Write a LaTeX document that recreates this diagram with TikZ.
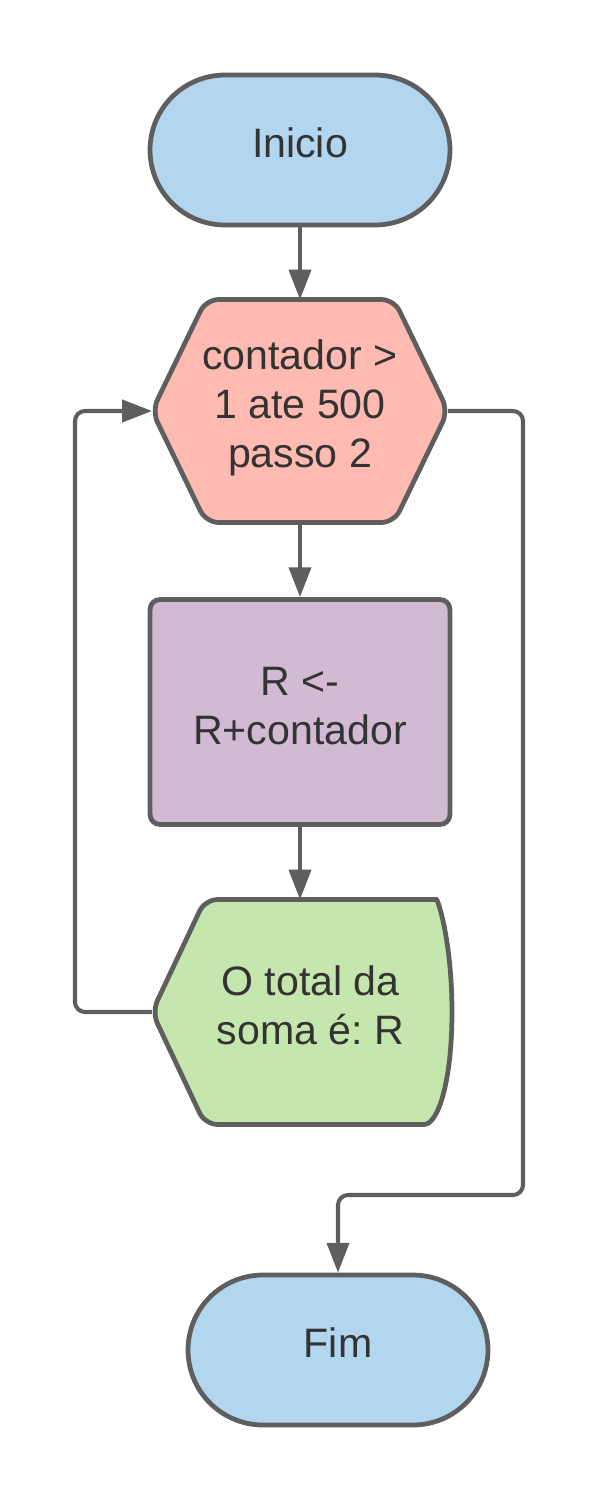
\documentclass[tikz,border=0pt]{standalone}
\usepackage{fontspec}
\setmainfont{Liberation Sans}
\usetikzlibrary{calc,shapes.misc,arrows.meta,backgrounds}
\usepackage{xcolor}
\definecolor{edge}{HTML}{5E5E5E}
\definecolor{ink}{HTML}{333333}
\definecolor{termfill}{HTML}{B2D6EF}
\definecolor{loopfill}{HTML}{FFBAB1}
\definecolor{procfill}{HTML}{D2BBD2}
\definecolor{outfill}{HTML}{C5E7AD}
\frenchspacing

\begin{document}
\begin{tikzpicture}[x=0.02cm,y=-0.02cm,
		font=\fontsize{23.4}{27.9}\selectfont, text=ink]
		\tikzstyle{every node}=[align=center, inner sep=0pt, text height=16.75pt, text depth=8pt]
		\tikzstyle{two lines}=[text height=44.65pt]
		\tikzstyle{three lines}=[text height=72.55pt]
		\tikzstyle{border}=[draw=edge, line width=2.7pt]
		\tikzstyle{terminal}=[border, fill=termfill, rounded rectangle, minimum width=6cm, minimum height=3cm]
		\tikzstyle{process}=[border, fill=procfill, rounded corners=0.2cm, minimum width=6cm, minimum height=4.5cm]
		\tikzstyle{frame}=[minimum width=5.92cm, minimum height=4.46cm, outer sep=0pt]
		\tikzstyle{line}=[draw=edge, line width=2.3pt, rounded corners=0.2cm, -{Triangle[length=17pt,width=12.5pt]}]
		\useasboundingbox (0,0) rectangle (600,1500);
		\node[terminal] (inicio) at (300,150) {Inicio};
		\node[frame, three lines] (laco) at (300,411) {contador >\\1 ate 500\\passo 2};
		\node[process, two lines] (soma) at (300,712) {R <-\\R+contador};
		\node[frame, two lines, minimum width=6cm, minimum height=4.5cm] (saida) at (302,1012) {\hspace*{0.34cm}O total da\\\hspace*{0.34cm}soma é: R};
		\node[terminal] (fim) at (338,1350) {Fim};
		\begin{scope}[on background layer]
		\draw[border, fill=loopfill, rounded corners=0.25cm] (laco.north)
			-- ($(laco.north east)+(-54,0)$) -- (laco.east) -- ($(laco.south east)+(-54,0)$)
			-- ($(laco.south west)+(54,0)$) -- (laco.west) -- ($(laco.north west)+(54,0)$) -- cycle;
		\draw[border, fill=outfill, rounded corners=0.25cm] (saida.north)
			-- ($(saida.north east)+(-28,0)$) [sharp corners]
			.. controls ($(saida.north east)+(-14,0)$) and ($(saida.east)+(0,-70)$) .. (saida.east)
			.. controls ($(saida.east)+(0,70)$) and ($(saida.south east)+(-14,0)$) .. ($(saida.south east)+(-28,0)$)
			[rounded corners=0.25cm] -- ($(saida.south west)+(53,0)$) -- (saida.west)
			-- ($(saida.north west)+(53,0)$) -- cycle;
		\end{scope}
		\coordinate (volta) at (75,700);
		\coordinate (desvio) at (523,1195);
		\draw[line] (inicio.south) -- (laco.north);
		\draw[line] (laco.south) -- (soma.north);
		\draw[line] (soma.south) -- (soma.south |- saida.north);
		\draw[line] (saida.west) -| (volta) |- (laco.west);
		\draw[line] (laco.east) -| (desvio) -| (fim.north);
\end{tikzpicture}
\end{document}
